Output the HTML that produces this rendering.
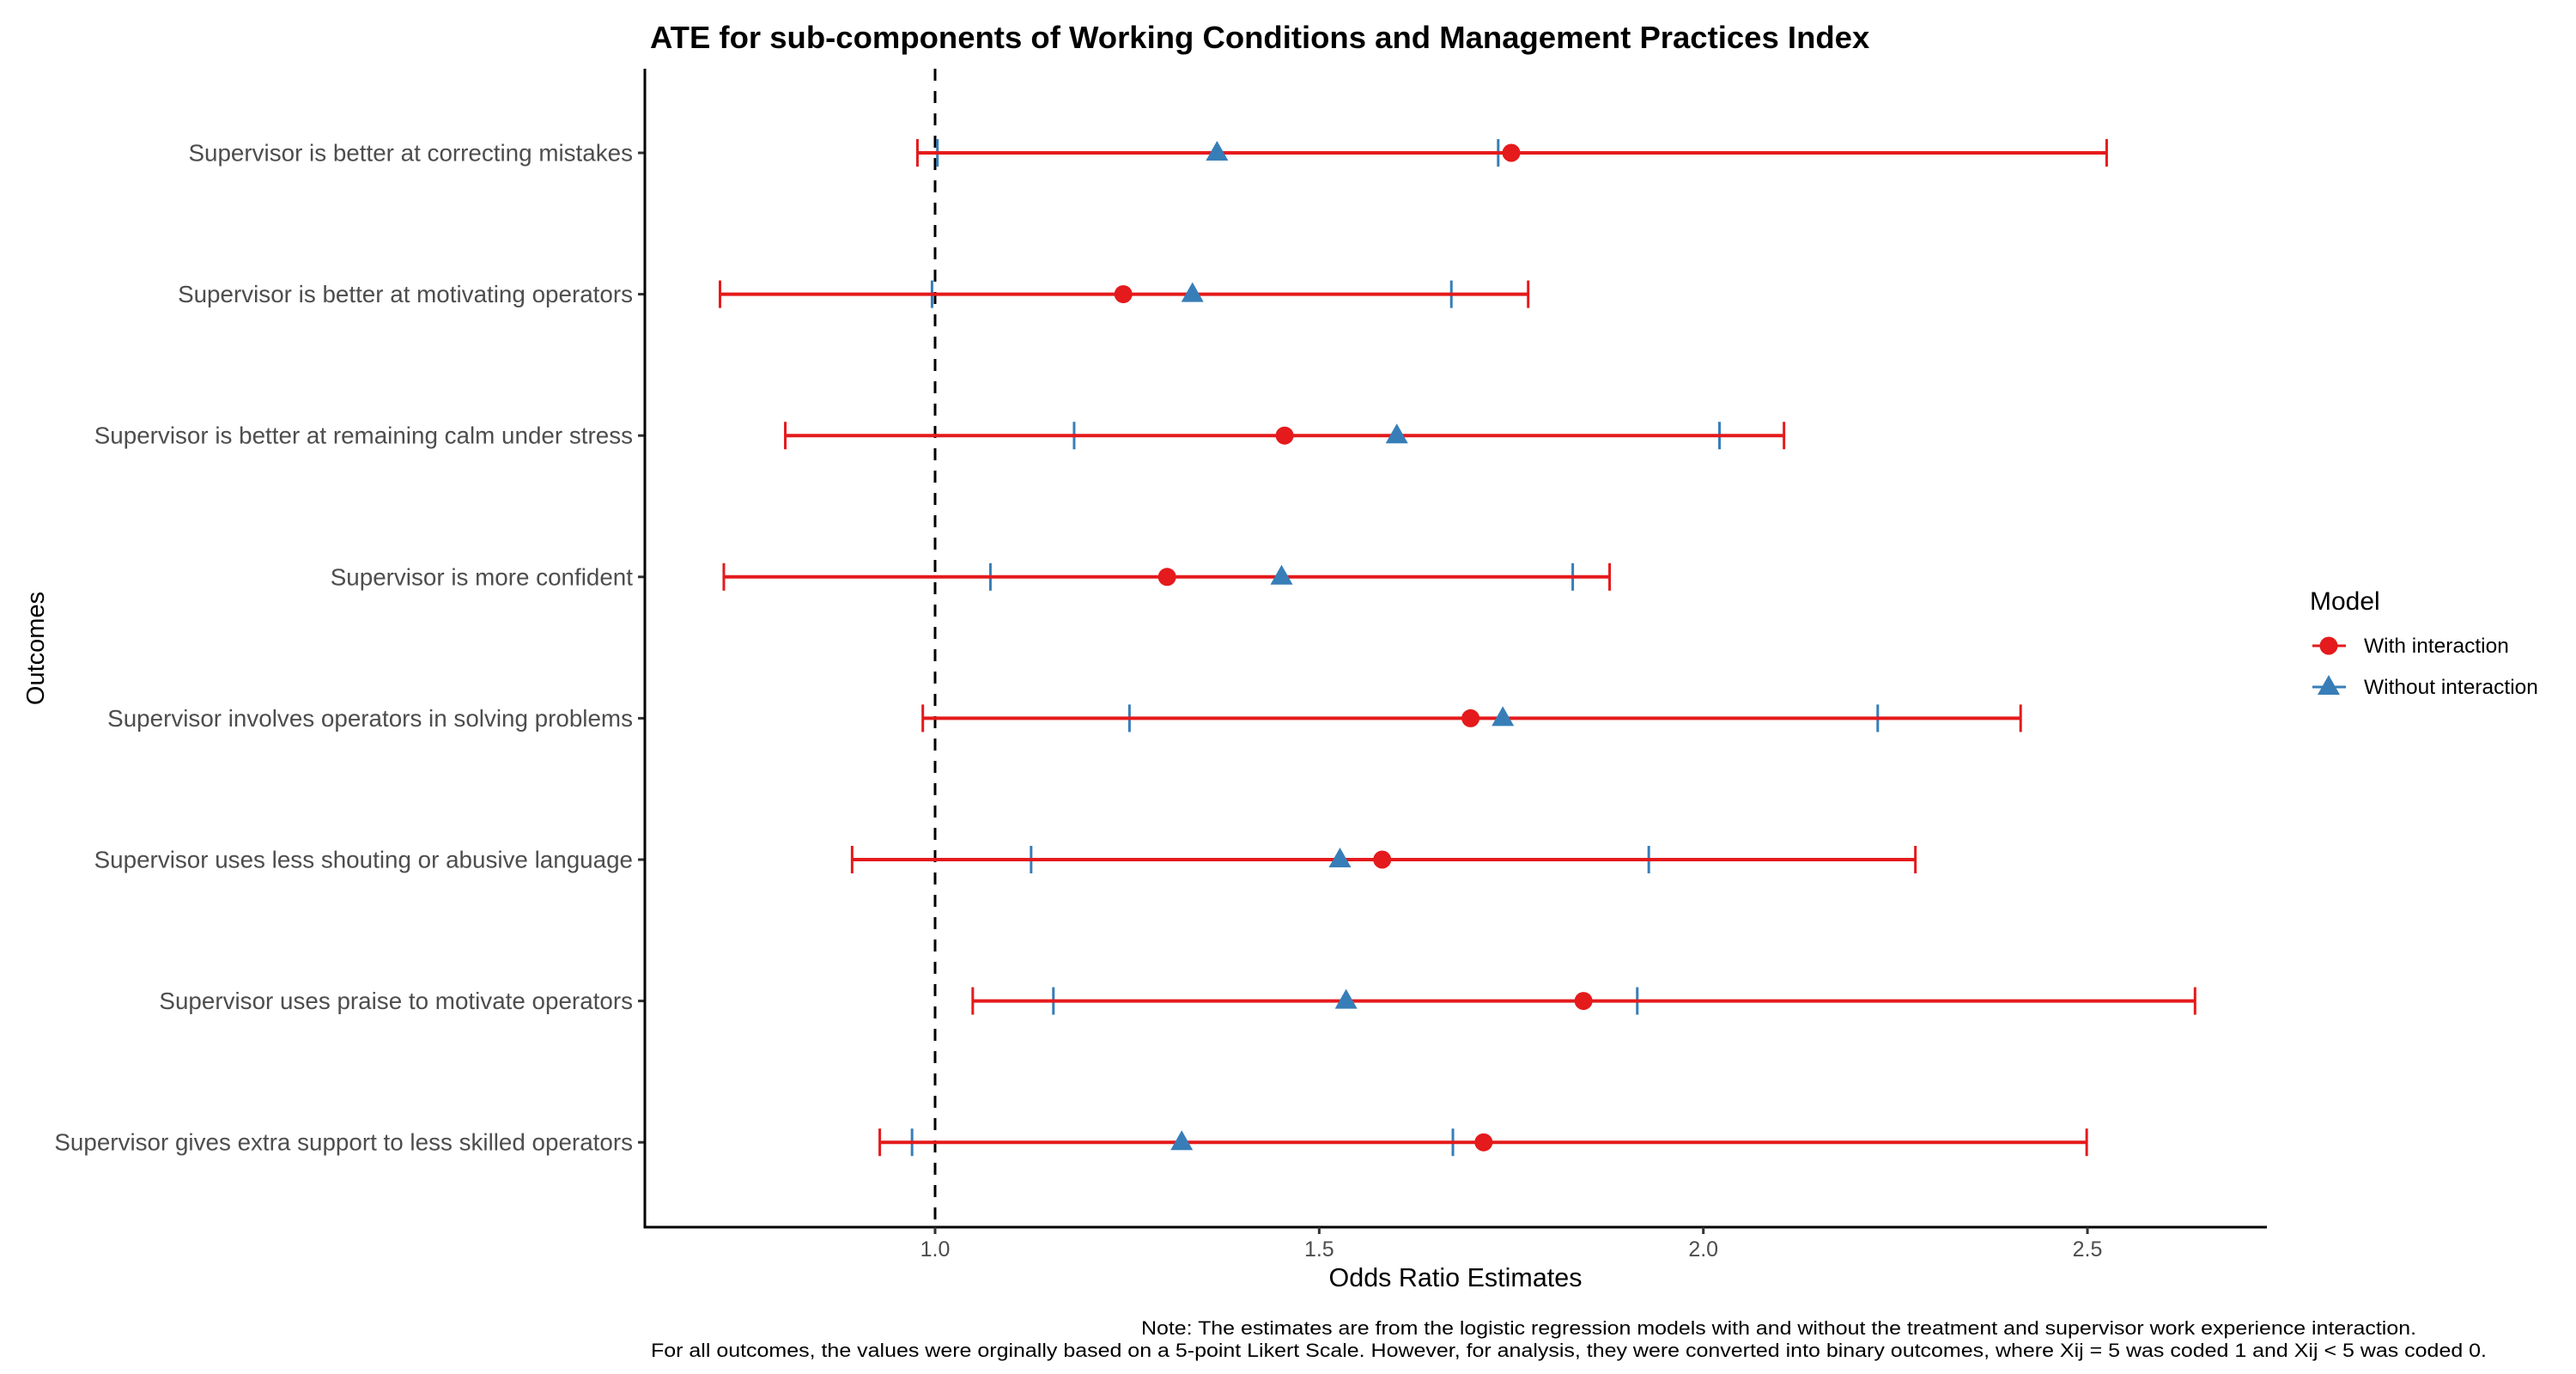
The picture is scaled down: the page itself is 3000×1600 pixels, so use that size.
<!DOCTYPE html>
<html><head><meta charset="utf-8"><style>
html,body{margin:0;padding:0;background:#fff;}
svg{display:block;font-family:"Liberation Sans",Arial,sans-serif;}
</style></head><body>
<svg id="chart" width="3000" height="1600" viewBox="0 0 3000 1600" xmlns="http://www.w3.org/2000/svg">
<rect width="3000" height="1600" fill="#fff"/>
<text x="757" y="56" font-size="36.5" font-weight="bold" fill="#000">ATE for sub-components of Working Conditions and Management Practices Index</text>
<g id="plot"></g>
<text x="42" y="755" font-size="29" fill="#000" text-anchor="middle" dominant-baseline="central" transform="rotate(-90 42 755)">Outcomes</text>
<text x="1695" y="1498" font-size="30.5" fill="#000" text-anchor="middle">Odds Ratio Estimates</text>
<text x="1329" y="1554" font-size="22" fill="#000" textLength="1485" lengthAdjust="spacingAndGlyphs">Note: The estimates are from the logistic regression models with and without the treatment and supervisor work experience interaction.</text>
<text x="758" y="1580" font-size="22" fill="#000" textLength="2138" lengthAdjust="spacingAndGlyphs">For all outcomes, the values were orginally based on a 5-point Likert Scale. However, for analysis, they were converted into binary outcomes, where Xij = 5 was coded 1 and Xij &lt; 5 was coded 0.</text>
<g>
<text x="2690" y="710" font-size="30" fill="#000">Model</text>
<g>
<line x1="2693" y1="752" x2="2732" y2="752" stroke="#E41A1C" stroke-width="3"/>
<circle cx="2712" cy="752" r="10.5" fill="#E41A1C"/>
<text x="2753" y="760" font-size="24.5" fill="#000">With interaction</text>
</g>
<g>
<line x1="2693" y1="800" x2="2732" y2="800" stroke="#377EB8" stroke-width="3"/>
<polygon points="2712,786 2725,809 2699,809" fill="#377EB8"/>
<text x="2753" y="808" font-size="24.5" fill="#000">Without interaction</text>
</g>
</g>
</svg>
<script>
const categories = [
"Supervisor is better at correcting mistakes",
"Supervisor is better at motivating operators",
"Supervisor is better at remaining calm under stress",
"Supervisor is more confident",
"Supervisor involves operators in solving problems",
"Supervisor uses less shouting or abusive language",
"Supervisor uses praise to motivate operators",
"Supervisor gives extra support to less skilled operators"];
const withEst = [1.750,1.245,1.455,1.302,1.697,1.582,1.844,1.714];
const withLo  = [0.977,0.720,0.805,0.725,0.984,0.892,1.049,0.928];
const withHi  = [2.525,1.772,2.105,1.878,2.413,2.276,2.640,2.499];
const woEst = [1.367,1.335,1.601,1.451,1.739,1.527,1.535,1.321];
const woLo  = [1.003,0.996,1.181,1.072,1.253,1.125,1.154,0.970];
const woHi  = [1.733,1.672,2.021,1.830,2.227,1.929,1.914,1.674];
const xTicks = [1.0,1.5,2.0,2.5];
const xTickLabels = ["1.0","1.5","2.0","2.5"];
const refValue = 1.0;

const NS="http://www.w3.org/2000/svg";
const L=751,R=2640,T=80,B=1429;
const xs = v => 1089 + (v-1)*894.7;
const ys = i => 178 + i*164.6;
const g=document.getElementById('plot');
function mk(tag,attrs,parent){const e=document.createElementNS(NS,tag);for(const k in attrs)e.setAttribute(k,attrs[k]);(parent||g).appendChild(e);return e;}

const ref=mk('line',{x1:xs(refValue),x2:xs(refValue),y1:T,y2:B,stroke:'#000','stroke-width':3,'stroke-dasharray':'14 12'});



categories.forEach((c,i)=>{
  const y=ys(i);
  const row=mk('g',{});
  
  
  const be=mk('g',{stroke:'#377EB8','stroke-width':3},row);
  
  
  mk('line',{x1:xs(woLo[i]),x2:xs(woHi[i]),y1:y,y2:y},be);
  mk('line',{x1:xs(woLo[i]),x2:xs(woLo[i]),y1:y-16,y2:y+16},be);
  mk('line',{x1:xs(woHi[i]),x2:xs(woHi[i]),y1:y-16,y2:y+16},be);
  const re=mk('g',{stroke:'#E41A1C','stroke-width':3},row);
  
  
  mk('line',{x1:xs(withLo[i]),x2:xs(withHi[i]),y1:y,y2:y,'stroke-width':4},re);
  mk('line',{x1:xs(withLo[i]),x2:xs(withLo[i]),y1:y-16,y2:y+16},re);
  mk('line',{x1:xs(withHi[i]),x2:xs(withHi[i]),y1:y-16,y2:y+16},re);
  const cx=xs(withEst[i]);
  const pt=mk('circle',{cx:cx,cy:y,r:10.5,fill:'#E41A1C'},row);
  
  
  const tx=xs(woEst[i]);
  const tri=mk('polygon',{points:`${tx},${y-14} ${tx+13},${y+9} ${tx-13},${y+9}`,fill:'#377EB8'},row);
  
  
  mk('line',{x1:L-8,x2:L,y1:y,y2:y,stroke:'#333','stroke-width':3});
  const lab=mk('text',{x:737,y:y,'font-size':27.8,fill:'#4d4d4d','text-anchor':'end','dominant-baseline':'central'});
  lab.textContent=c;
  
  
});

const ya=mk('line',{x1:L,x2:L,y1:T,y2:B+1.5,stroke:'#000','stroke-width':3});


const xa=mk('line',{x1:L-1.5,x2:R,y1:B,y2:B,stroke:'#000','stroke-width':3});


xTicks.forEach((v,j)=>{
  mk('line',{x1:xs(v),x2:xs(v),y1:B,y2:B+8,stroke:'#333','stroke-width':3});
  const t=mk('text',{x:xs(v),y:B+34,'font-size':25,fill:'#4d4d4d','text-anchor':'middle'});
  t.textContent=xTickLabels[j];
  
  
});
</script>
</body></html>
